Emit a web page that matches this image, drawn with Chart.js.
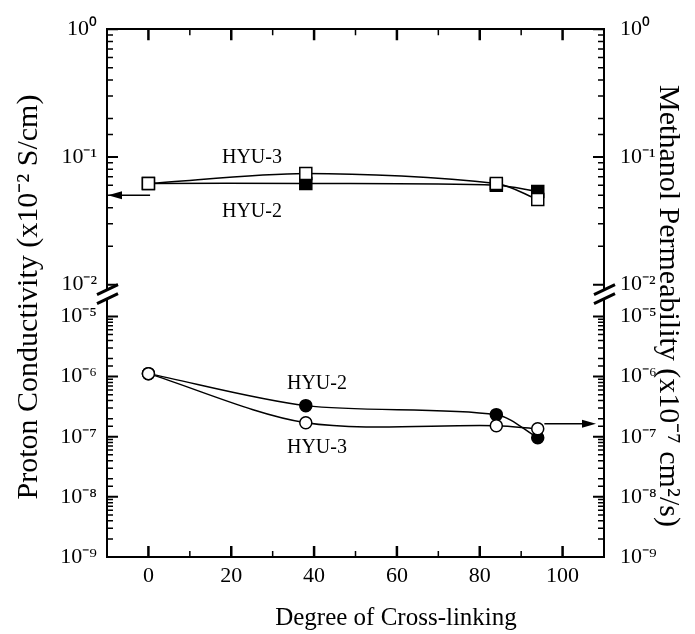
<!DOCTYPE html>
<html><head><meta charset="utf-8">
<script src="https://cdn.jsdelivr.net/npm/chart.js@4.4.1/dist/chart.umd.min.js"></script>
<style>html,body{margin:0;padding:0;background:#fff;}#wrap{width:695px;height:634px;}</style>
</head><body><div id="wrap"><canvas id="c" width="695" height="634"></canvas></div>
<script>
const crossLinking = [0, 38, 84, 94];
const condHYU2 = [0.062, 0.062, 0.060, 0.0537];
const condHYU3 = [0.062, 0.0743, 0.062, 0.0464];
const permHYU2 = [1.12e-6, 3.29e-7, 2.33e-7, 9.6e-8];
const permHYU3 = [1.12e-6, 1.71e-7, 1.52e-7, 1.36e-7];
const xTickValues = [0, 10, 20, 30, 40, 50, 60, 70, 80, 90, 100];
const xTickLabels = ['0', '', '20', '', '40', '', '60', '', '80', '', '100'];
const topTickValues = [1, 0.1, 0.01];
const topTickLabels = ['10⁰', '10⁻¹', '10⁻²'];
const botTickValues = [1e-5, 1e-6, 1e-7, 1e-8, 1e-9];
const botTickLabels = ['10⁻⁵', '10⁻⁶', '10⁻⁷', '10⁻⁸', '10⁻⁹'];
const xTitle = 'Degree of Cross-linking';
const leftTitle = 'Proton Conductivity (x10⁻² S/cm)';
const rightTitle = 'Methanol Permeability (x10⁻⁷ cm²/s)';
const seriesNotes = [
  {text: 'HYU-3', x: 25, y: 0.099, axis: 'yTop'},
  {text: 'HYU-2', x: 25, y: 0.037, axis: 'yTop'},
  {text: 'HYU-2', x: 40.7, y: 7.5e-7, axis: 'yBot'},
  {text: 'HYU-3', x: 40.7, y: 6.6e-8, axis: 'yBot'}
];
const arrowTop = {x: 0.4, y: 0.05};
const arrowBot = {x: 95.6, y: 1.64e-7};

const SERIF = "'Liberation Serif', 'Times New Roman', serif";

function isPow10(v) { const l = Math.log10(v); return Math.abs(l - Math.round(l)) < 1e-6; }

function logAxis(pos, stack, weight, stackWeight, min, max, values, labels) {
  return {
    type: 'logarithmic', position: pos, stack: stack, stackWeight: stackWeight, weight: weight,
    min: min, max: max,
    grid: {display: false, drawTicks: false},
    border: {display: true, color: '#000', width: 2},
    ticks: {
      autoSkip: false, maxRotation: 0, padding: pos === 'left' ? 10 : 16, color: '#000',
      font: {family: SERIF, size: 22},
      callback: function(v) {
        const i = values.findIndex(t => Math.abs(Math.log10(t) - Math.log10(v)) < 1e-6);
        return i >= 0 ? labels[i] : '';
      }
    },
    afterFit: function(s) { s.width = pos === 'left' ? 107 : 91; }
  };
}
function gapAxis(pos, stack, weight) {
  return {type: 'linear', position: pos, stack: stack, stackWeight: 32, weight: weight, display: false, min: 0, max: 1};
}
function setXTicks(s) { s.ticks = xTickValues.map(v => ({value: v})); }

const decor = {
  id: 'decor',
  afterDraw(chart) {
    const ctx = chart.ctx, s = chart.scales, ca = chart.chartArea;
    ctx.save();
    ctx.strokeStyle = '#000';
    ['yTop', 'yBot'].forEach(id => {
      const sc = s[id];
      sc.ticks.forEach(t => {
        const y = sc.getPixelForValue(t.value);
        const major = isPow10(t.value);
        const len = major ? 11 : 6;
        ctx.lineWidth = major ? 2 : 1.5;
        ctx.beginPath();
        ctx.moveTo(ca.left, y); ctx.lineTo(ca.left + len, y);
        ctx.moveTo(ca.right, y); ctx.lineTo(ca.right - len, y);
        ctx.stroke();
      });
    });
    xTickValues.forEach(v => {
      const x = s.x.getPixelForValue(v);
      const major = v % 20 === 0;
      const len = major ? 11 : 6;
      ctx.lineWidth = major ? 2.5 : 1.5;
      ctx.beginPath();
      ctx.moveTo(x, ca.bottom); ctx.lineTo(x, ca.bottom - len);
      ctx.moveTo(x, ca.top); ctx.lineTo(x, ca.top + len);
      ctx.stroke();
    });
    const gT = s.yTop.bottom, gB = s.yBot.top;
    ctx.lineWidth = 2;
    [ca.left, ca.right].forEach(x => {
      ctx.beginPath();
      ctx.moveTo(x, gT); ctx.lineTo(x, gT + 5);
      ctx.moveTo(x, gT + 14); ctx.lineTo(x, gB);
      ctx.stroke();
      ctx.lineWidth = 3;
      ctx.beginPath();
      ctx.moveTo(x - 10, gT + 10); ctx.lineTo(x + 11, gT);
      ctx.moveTo(x - 10, gT + 19); ctx.lineTo(x + 11, gT + 9);
      ctx.stroke();
      ctx.lineWidth = 2;
    });
    function arrow(x1, y, x2) {
      const dir = Math.sign(x2 - x1);
      ctx.lineWidth = 1.5;
      ctx.beginPath(); ctx.moveTo(x1, y); ctx.lineTo(x2 - dir * 10, y); ctx.stroke();
      ctx.beginPath();
      ctx.moveTo(x2, y); ctx.lineTo(x2 - dir * 14, y - 4); ctx.lineTo(x2 - dir * 14, y + 4); ctx.closePath();
      ctx.fillStyle = '#000'; ctx.fill();
    }
    arrow(s.x.getPixelForValue(arrowTop.x), s.yTop.getPixelForValue(arrowTop.y), ca.left + 1);
    arrow(s.x.getPixelForValue(arrowBot.x), s.yBot.getPixelForValue(arrowBot.y), ca.right - 8);
    ctx.fillStyle = '#000';
    ctx.font = '20px ' + SERIF;
    ctx.textAlign = 'center'; ctx.textBaseline = 'middle';
    seriesNotes.forEach(n => {
      ctx.fillText(n.text, s.x.getPixelForValue(n.x), s[n.axis].getPixelForValue(n.y));
    });
    ctx.font = '25px ' + SERIF;
    ctx.textBaseline = 'alphabetic';
    ctx.fillText(xTitle, 396, 625);
    ctx.font = '30px ' + SERIF;
    ctx.save(); ctx.translate(37, 297); ctx.rotate(-Math.PI / 2); ctx.fillText(leftTitle, 0, 0); ctx.restore();
    ctx.save(); ctx.translate(660, 306); ctx.rotate(Math.PI / 2); ctx.fillText(rightTitle, 0, 0); ctx.restore();
    ctx.restore();
  }
};

function lineDs(label, data, axis, style, fill, radius) {
  return {
    label: label, data: crossLinking.map((x, i) => ({x: x, y: data[i]})), yAxisID: axis,
    borderColor: '#000', borderWidth: 1.5, tension: 0.3,
    pointStyle: style, pointRadius: radius, pointBackgroundColor: fill, pointBorderColor: '#000', pointBorderWidth: 1.5
  };
}

new Chart(document.getElementById('c'), {
  type: 'line',
  data: {
    datasets: [
      lineDs('HYU-3 conductivity', condHYU3, 'yTop', 'rect', '#fff', 8.5),
      lineDs('HYU-3 permeability', permHYU3, 'yBot', 'circle', '#fff', 6),
      lineDs('HYU-2 conductivity', condHYU2, 'yTop', 'rect', '#000', 8.5),
      lineDs('HYU-2 permeability', permHYU2, 'yBot', 'circle', '#000', 6)
    ]
  },
  options: {
    responsive: false, animation: false, devicePixelRatio: 1,
    layout: {padding: 0},
    plugins: {legend: {display: false}, tooltip: {enabled: false}},
    scales: {
      x: {
        type: 'linear', position: 'bottom', min: -10, max: 110,
        grid: {display: false, drawTicks: false},
        border: {display: true, color: '#000', width: 2},
        afterBuildTicks: setXTicks,
        ticks: {autoSkip: false, maxRotation: 0, padding: 6, color: '#000', font: {family: SERIF, size: 22},
          callback: function(v) { const i = xTickValues.indexOf(v); return i >= 0 ? xTickLabels[i] : ''; }},
        afterFit: function(s) { s.height = 77; }
      },
      xTop: {
        type: 'linear', position: 'top', min: -10, max: 110,
        grid: {display: false, drawTicks: false},
        border: {display: true, color: '#000', width: 2},
        afterBuildTicks: setXTicks,
        ticks: {display: false},
        afterFit: function(s) { s.height = 26; }
      },
      yBot: logAxis('left', 'L', 1, 242, 1e-9, 1e-5, botTickValues, botTickLabels),
      yGap: gapAxis('left', 'L', 2),
      yTop: logAxis('left', 'L', 3, 257, 0.01, 1, topTickValues, topTickLabels),
      rTop: logAxis('right', 'R', 1, 257, 0.01, 1, topTickValues, topTickLabels),
      rGap: gapAxis('right', 'R', 2),
      rBot: logAxis('right', 'R', 3, 242, 1e-9, 1e-5, botTickValues, botTickLabels)
    }
  },
  plugins: [decor]
});
</script>
</body></html>
